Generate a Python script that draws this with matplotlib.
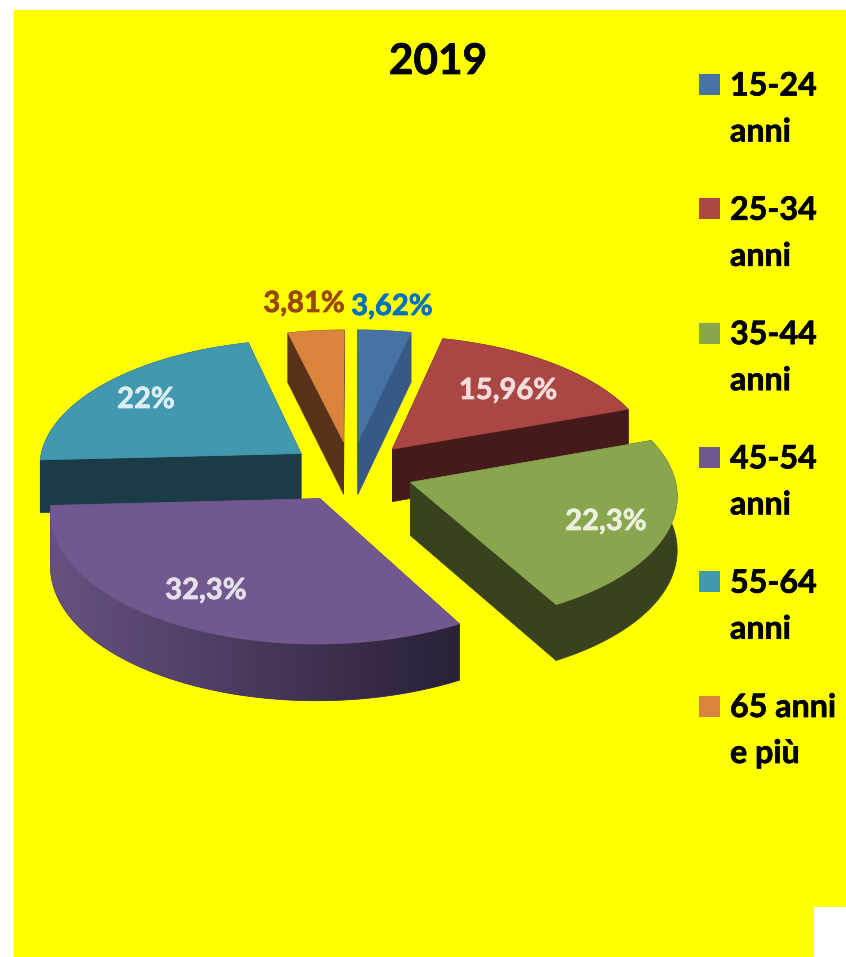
import numpy as np
import matplotlib
matplotlib.use('Agg')
import matplotlib.pyplot as plt
import matplotlib.patheffects as pe
from matplotlib.patches import Polygon, Rectangle
from matplotlib.colors import to_rgb

# data
fasce = ['15-24\nanni', '25-34\nanni', '35-44\nanni', '45-54\nanni', '55-64\nanni', '65 anni\ne più']
valori = [3.62, 15.96, 22.3, 32.3, 22, 3.81]
etichette = ['3,62%', '15,96%', '22,3%', '32,3%', '22%', '3,81%']

# colours
col_top = ['#4672A6', '#AA4644', '#89A54E', '#71588F', '#4198AF', '#DB843D']
col_side = ['#365A85', '#451A1A', '#38421F', '#4A3A60', '#1B3C47', '#58321A']
col_lab = ['#0070C0', '#F2DCDB', '#EBF1DE', '#E6E0EC', '#DBEEF4', '#984807']
lab_xy = [(392, 307), (508, 391), (606, 522), (206, 591), (146, 400), (304, 304)]

plt.rcParams['font.family'] = ['Lato', 'DejaVu Sans']
fig = plt.figure(figsize=(8.46, 9.57), dpi=100)
ax = fig.add_axes([0, 0, 1, 1])
ax.axis('off')

# yellow background with the white notch
ax.add_patch(Rectangle((14, 10), 832, 947, fc='#FFFF00', ec='none'))
ax.add_patch(Rectangle((814, 907), 32, 50, fc='white', ec='none'))

# perspective pie
cx, cy = 351, 471.5
Rx, Ry = 263, 127
k = 0.09
expl = 0.24
h0 = 53


def project(u, v):
    s = 1 / (1 + k * v)
    return cx + Rx * u * s, cy - Ry * v * s, s


val = np.array(valori)
edges = np.concatenate([[0], np.cumsum(val)]) / val.sum() * 2 * np.pi
mids = (edges[:-1] + edges[1:]) / 2

# back slices first
order = np.argsort(-np.cos(mids))
for i in order:
    th = np.linspace(edges[i], edges[i + 1], 120)
    ou = expl * np.sin(mids[i])
    ov = expl * np.cos(mids[i])
    xa, ya, sa = project(ou, ov)
    xs, ys, ss = project(ou + np.sin(th), ov + np.cos(th))
    ha = h0 * sa ** 0.6
    hs = h0 * ss ** 0.6

    # radial faces
    for j in [0, -1]:
        quad = [(xa, ya), (xs[j], ys[j]), (xs[j], ys[j] + hs[j]), (xa, ya + ha)]
        ax.add_patch(Polygon(quad, fc=col_side[i], ec=col_side[i], lw=0.5))

    # outer wall
    wall = list(zip(xs, ys)) + list(zip(xs[::-1], (ys + hs)[::-1]))
    wall_patch = Polygon(wall, fc=col_side[i], ec=col_side[i], lw=0.5)
    ax.add_patch(wall_patch)
    if i == 3:
        # purple wall gets darker to the right
        a = np.array(to_rgb('#665281'))
        b = np.array(to_rgb('#2A2037'))
        t = np.linspace(0, 1, 256)[None, :, None]
        im = ax.imshow(a + (b - a) * t, extent=(xs.min(), xs.max(), 900, 400),
                       aspect='auto', zorder=wall_patch.get_zorder())
        im.set_clip_path(wall_patch)

    # top
    top = [(xa, ya)] + list(zip(xs, ys))
    ax.add_patch(Polygon(top, fc=col_top[i], ec=col_top[i], lw=0.5, zorder=2))

ax.set_xlim(0, 846)
ax.set_ylim(957, 0)


def testo(x, y, s, c, size, ha='center'):
    ax.text(x, y, s, color=c, fontsize=size, fontweight='bold', ha=ha, va='center', zorder=5,
            path_effects=[pe.withStroke(linewidth=0.5, foreground=c)])


# labels
for i in range(len(valori)):
    testo(lab_xy[i][0], lab_xy[i][1], etichette[i], col_lab[i], 21)

testo(438, 62, '2019', 'black', 30.5)

# legend
for i in range(len(fasce)):
    y0 = 74 + i * 124.3
    ax.add_patch(Rectangle((699, y0), 21, 21, fc=col_top[i], ec='none'))
    r1, r2 = fasce[i].split('\n')
    testo(730, y0 + 12, r1, 'black', 23.2, ha='left')
    testo(730, y0 + 58, r2, 'black', 23.2, ha='left')

fig.savefig('out.png', dpi=100)
